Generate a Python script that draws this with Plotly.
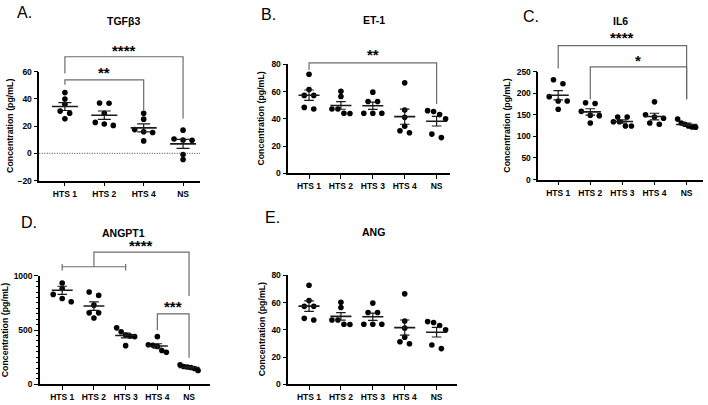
import numpy as np
import plotly.graph_objects as go

# ---------------- data ----------------
cats_A = ["HTS 1", "HTS 2", "HTS 4", "NS"]
cats_5 = ["HTS 1", "HTS 2", "HTS 3", "HTS 4", "NS"]

tgfb3 = [
    [44.6, 39.9, 36.0, 31.0, 29.4, 25.3],
    [37.0, 36.8, 29.4, 22.7, 21.5, 20.5],
    [29.4, 25.1, 17.4, 15.8, 15.3, 9.1],
    [17.0, 10.5, 9.8, 9.6, -0.9, -4.5],
]
et1 = [
    [72.8, 61.6, 57.3, 57.3, 48.5, 47.3],
    [60.3, 56.5, 47.3, 47.3, 44.2, 44.0],
    [59.7, 52.8, 52.8, 44.2, 44.2, 44.2],
    [66.5, 46.5, 41.3, 34.7, 31.3, 29.9],
    [46.1, 45.4, 43.2, 40.1, 28.9, 26.3],
]
il6 = [
    [231, 222, 192, 182, 182, 163],
    [178, 176, 158, 149, 148, 131],
    [145, 145, 134, 134, 124, 124],
    [180, 150, 145, 142, 131, 128],
    [140, 131, 128, 124, 122, 121],
]
angpt1 = [
    [1003, 934, 883, 829, 791, 761],
    [851, 820, 730, 659, 659, 611],
    [521, 485, 455, 445, 440, 357],
    [440, 365, 360, 350, 312, 296],
    [180, 165, 160, 155, 147, 128],
]
ang = [
    [72.8, 61.6, 57.3, 57.3, 48.5, 47.3],
    [60.3, 56.5, 47.3, 47.3, 44.2, 44.0],
    [59.7, 52.8, 52.8, 44.2, 44.2, 44.2],
    [66.5, 46.5, 41.3, 34.7, 31.3, 29.9],
    [46.1, 45.4, 43.2, 40.1, 28.9, 26.3],
]

# significance brackets: (x-path, y-path) in data units, star label
brackets_A = [([0, 0, 3, 3], [58.7, 70.9, 70.9, 25.3]), ([0, 0, 2, 2], [50.4, 53.9, 53.9, 31.3])]
stars_A = [(1.5, 75.4, "****"), (1.0, 59.2, "**")]
brackets_B = [([0, 0, 4, 4], [75.9, 81.2, 81.2, 50.9])]
stars_B = [(2.0, 87.2, "**")]
brackets_C = [([0, 0, 4, 4], [257, 310, 310, 186]), ([1, 1, 4, 4], [186, 261, 261, 186])]
stars_C = [(2.0, 329, "****"), (2.5, 276, "*")]
brackets_D = [([0, 0, None, 0, 2, None, 2, 2], [1050, 1110, None, 1084, 1084, None, 1050, 1110]),
              ([1, 1, 4, 4], [1084, 1219, 1219, 815]),
              ([3, 3, 4, 4], [500, 650, 650, 245])]
stars_D = [(2.5, 1278, "****"), (3.5, 716, "***")]

# ---------------- layout geometry ----------------
W, H = 708, 405
FONT = "Liberation Sans"


def fx(px):
    return px / W


def fy(py):
    return 1 - py / H


panels = [
    dict(cats=cats_A, data=tgfb3, title="TGFβ3", letter="A.", box=(39.3, 200, 68.3, 180),
         yr=(-20, 60), dtick=20, xr=(-0.65, 3.43), title_xy=(123, 16), letter_xy=(24, 8),
         ytitle=(10, 124), capw=6.5, br=brackets_A, st=stars_A, ext=82, minor=None, zero=True),
    dict(cats=cats_5, data=et1, title="ET-1", letter="B.", box=(288.3, 450, 61, 172.7),
         yr=(0, 80), dtick=20, xr=(-0.65, 4.42), title_xy=(374, 15), letter_xy=(268, 10),
         ytitle=(261.5, 117), capw=4.8, br=brackets_B, st=stars_B, ext=95, minor=None, zero=False),
    dict(cats=cats_5, data=il6, title="IL6", letter="C.", box=(538.3, 703, 68.3, 179),
         yr=(0, 250), dtick=50, xr=(-0.62, 4.51), title_xy=(620, 16), letter_xy=(531, 12),
         ytitle=(506.7, 124), capw=4.8, br=brackets_C, st=stars_C, ext=345, minor=None, zero=False),
    dict(cats=cats_5, data=angpt1, title="ANGPT1", letter="D.", box=(40, 210, 277.7, 389),
         yr=(0, 1000), dtick=500, xr=(-0.70, 4.66), title_xy=(123, 234), letter_xy=(29, 223),
         ytitle=(4.5, 334), capw=4.8, br=brackets_D, st=stars_D, ext=1320, minor=50, zero=False),
    dict(cats=cats_5, data=ang, title="ANG", letter="E.", box=(288.3, 456.7, 277.3, 389),
         yr=(0, 80), dtick=20, xr=(-0.65, 4.63), title_xy=(373, 233), letter_xy=(272, 218),
         ytitle=(261.5, 333), capw=4.8, br=None, st=None, ext=None, minor=None, zero=False),
]


def swarm_offsets(vals, px_per_unit, px_per_cat, thresh_px=4.5, step_px=9.5, max_w_px=18):
    v = np.asarray(vals, float)
    order = list(np.argsort(-v))
    rows, cur = [], [order[0]]
    for a, b in zip(order[:-1], order[1:]):
        if (v[a] - v[b]) * px_per_unit < thresh_px:
            cur.append(b)
        else:
            rows.append(cur)
            cur = [b]
    rows.append(cur)
    off = np.zeros(len(v))
    for r in rows:
        n = len(r)
        if n == 1:
            continue
        step = min(step_px, max_w_px / (n - 1))
        for k, idx in enumerate(r):
            off[idx] = (k - (n - 1) / 2) * step / px_per_cat
    return off


fig = go.Figure()
annotations = []
shapes = []
layout_axes = {}
extra_id = 6

for i, p in enumerate(panels, start=1):
    xs = "" if i == 1 else str(i)
    xname, yname = "x" + xs, "y" + xs
    x0p, x1p, y0p, y1p = p["box"]
    xd = [fx(x0p), fx(x1p)]
    yd = [fy(y1p), fy(y0p)]
    r0, r1 = p["yr"]
    ppu = (y1p - y0p) / (r1 - r0)
    ppc = (x1p - x0p) / (p["xr"][1] - p["xr"][0])

    dx, dy = [], []
    mx, my = [], []
    ex, ey, es = [], [], []
    for ci, vals in enumerate(p["data"]):
        off = swarm_offsets(vals, ppu, ppc)
        dx += list(ci + off)
        dy += list(vals)
        m = float(np.mean(vals))
        sem = float(np.std(vals, ddof=1) / np.sqrt(len(vals)))
        mx += [ci - 0.33, ci + 0.33, None]
        my += [m, m, None]
        ex.append(ci)
        ey.append(m)
        es.append(sem)

    fig.add_trace(go.Scatter(x=dx, y=dy, mode="markers", xaxis=xname, yaxis=yname,
                             marker=dict(color="black", size=5.6, line=dict(width=0)),
                             cliponaxis=False, showlegend=False, hoverinfo="skip"))
    fig.add_trace(go.Scatter(x=ex, y=ey, mode="markers", xaxis=xname, yaxis=yname,
                             marker=dict(size=1, opacity=0),
                             error_y=dict(type="data", array=es, color="#1a1a1a",
                                          thickness=1.2, width=p["capw"]),
                             cliponaxis=False, showlegend=False, hoverinfo="skip"))
    fig.add_trace(go.Scatter(x=mx, y=my, mode="lines", xaxis=xname, yaxis=yname,
                             line=dict(color="#1a1a1a", width=1.6),
                             cliponaxis=False, showlegend=False, hoverinfo="skip"))

    yaxis = dict(domain=yd, range=[r0, r1 + (r1 - r0) * 1e-5], anchor=xname,
                 showline=True, linecolor="black", linewidth=1.5,
                 ticks="outside", ticklen=4, tickwidth=1.3, tickcolor="black",
                 dtick=p["dtick"], tick0=0, showgrid=False, zeroline=False,
                 tickfont=dict(family=FONT, size=8.5, color="black", weight="bold"))
    if p["minor"]:
        yaxis["minor"] = dict(dtick=p["minor"], ticks="outside", ticklen=2.5,
                              tickwidth=1, tickcolor="black", showgrid=False)
    xaxis = dict(domain=xd, range=list(p["xr"]), anchor=yname,
                 showline=True, linecolor="black", linewidth=1.5,
                 ticks="outside", ticklen=4, tickwidth=1.3, tickcolor="black",
                 tickvals=list(range(len(p["cats"]))), ticktext=p["cats"],
                 showgrid=False, zeroline=False,
                 tickfont=dict(family=FONT, size=8.5, color="black", weight="bold"))
    layout_axes["xaxis" + xs] = xaxis
    layout_axes["yaxis" + xs] = yaxis

    if p["zero"]:
        shapes.append(dict(type="line", xref=xname + " domain", yref=yname, x0=0, x1=1,
                           y0=0, y1=0, line=dict(color="#444", width=1, dash="1px,1.5px")))

    annotations.append(dict(text="<b>" + p["title"] + "</b>", x=fx(p["title_xy"][0]),
                            y=fy(p["title_xy"][1]), xref="paper", yref="paper",
                            xanchor="center", yanchor="middle", showarrow=False,
                            font=dict(family=FONT, size=10.5, color="black")))
    annotations.append(dict(text=p["letter"], x=fx(p["letter_xy"][0]), y=fy(p["letter_xy"][1]),
                            xref="paper", yref="paper", xanchor="center", yanchor="middle",
                            showarrow=False, font=dict(family=FONT, size=16, color="black")))
    annotations.append(dict(text="<b>Concentration (pg/mL)</b>", x=fx(p["ytitle"][0]),
                            y=fy(p["ytitle"][1]), xref="paper", yref="paper",
                            xanchor="center", yanchor="middle", textangle=-90,
                            showarrow=False, font=dict(family=FONT, size=8.8, color="black")))

    # brackets on an invisible companion subplot with the same scale but taller domain
    if p["br"]:
        k = str(extra_id)
        extra_id += 1
        ext_top = yd[0] + (yd[1] - yd[0]) * (p["ext"] - r0) / (r1 - r0)
        layout_axes["xaxis" + k] = dict(domain=xd, range=list(p["xr"]), anchor="y" + k,
                                        visible=False, showgrid=False, zeroline=False)
        layout_axes["yaxis" + k] = dict(domain=[yd[0], ext_top], range=[r0, p["ext"]],
                                        anchor="x" + k, visible=False, showgrid=False,
                                        zeroline=False)
        bx, by = [], []
        for (px_, py_) in p["br"]:
            bx += list(px_) + [None]
            by += list(py_) + [None]
        fig.add_trace(go.Scatter(x=bx, y=by, mode="lines", xaxis="x" + k, yaxis="y" + k,
                                 line=dict(color="#6b6b6b", width=1.2),
                                 showlegend=False, hoverinfo="skip"))
        for (sx, sy, s) in p["st"]:
            annotations.append(dict(text="<b>" + s + "</b>", x=sx, y=sy, xref="x" + k,
                                    yref="y" + k, xanchor="center", yanchor="middle",
                                    showarrow=False,
                                    font=dict(family=FONT, size=15, color="black")))

fig.update_layout(
    width=W, height=H, margin=dict(l=0, r=0, t=0, b=0),
    paper_bgcolor="white", plot_bgcolor="rgba(0,0,0,0)",
    showlegend=False, annotations=annotations, shapes=shapes,
    **layout_axes,
)

fig.write_html("out.html", config={"displayModeBar": False},
               post_script="document.body.style.margin='0';document.body.style.overflow='hidden';")
